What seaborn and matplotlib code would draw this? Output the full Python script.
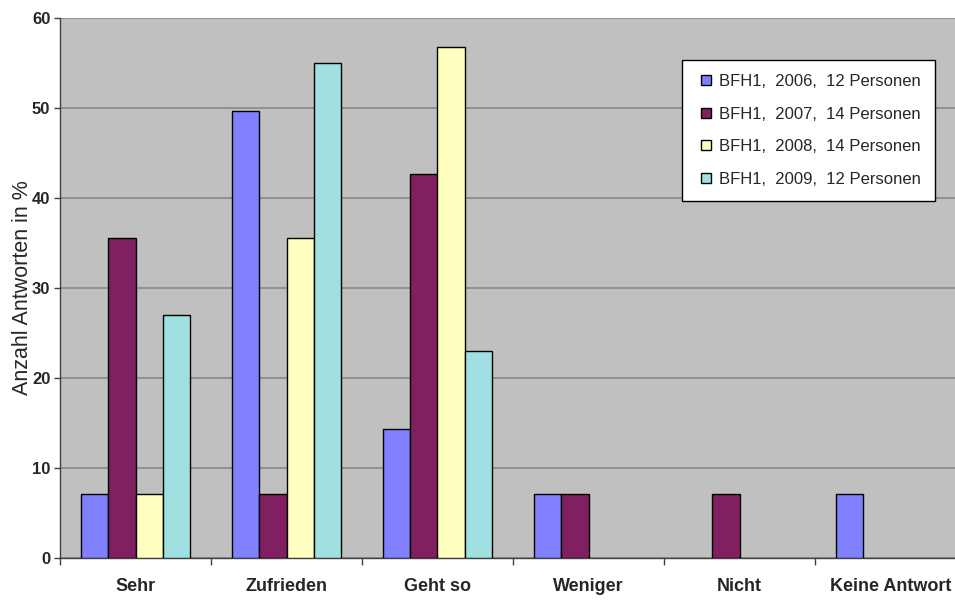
import matplotlib
matplotlib.use("Agg")
import matplotlib.pyplot as plt
from matplotlib.lines import Line2D
import seaborn as sns
import pandas as pd

categories = ["Sehr", "Zufrieden", "Geht so", "Weniger", "Nicht", "Keine Antwort"]
series_names = ["BFH1,  2006,  12 Personen", "BFH1,  2007,  14 Personen",
                "BFH1,  2008,  14 Personen", "BFH1,  2009,  12 Personen"]
v2006 = [7.1, 49.7, 14.3, 7.1, 0, 7.1]
v2007 = [35.5, 7.1, 42.6, 7.1, 7.1, 0]
v2008 = [7.1, 35.5, 56.8, 0, 0, 0]
v2009 = [27.0, 55.0, 23.0, 0, 0, 0]
colors = ["#8080FF", "#802060", "#FFFFC0", "#A0E0E0"]
y_ticks = [0, 10, 20, 30, 40, 50, 60]

rows = []
for name, vals in zip(series_names, [v2006, v2007, v2008, v2009]):
    for c, v in zip(categories, vals):
        rows.append({"Kategorie": c, "Serie": name, "Wert": v})
df = pd.DataFrame(rows)

sns.set_theme(style="white")
plt.rcParams["font.family"] = ["Liberation Sans", "DejaVu Sans"]

fig = plt.figure(figsize=(9.55, 6.0), dpi=100)
fig.patch.set_facecolor("white")
ax = fig.add_axes([60 / 955, 1 - 557.5 / 600, 906 / 955, 539.5 / 600])
ax.set_facecolor("#C0C0C0")

sns.barplot(data=df, x="Kategorie", y="Wert", hue="Serie", order=categories,
            hue_order=series_names, palette=dict(zip(series_names, colors)),
            width=0.72, gap=0, edgecolor="black", linewidth=1.0,
            saturation=1, ax=ax, zorder=3, legend=False)

# hide zero-height bars (no outline line)
for p in ax.patches:
    if abs(p.get_height()) < 1e-9:
        p.set_linewidth(0)

ax.set_ylim(0, 60)
ax.set_xlim(-0.5, 5.5)
ax.set_yticks(y_ticks)
ax.set_yticklabels([str(t) for t in y_ticks], fontsize=12, fontweight="bold")
ax.yaxis.grid(True, color="#8C8C8C", linewidth=1.3, zorder=0)
ax.xaxis.grid(False)
ax.set_axisbelow(True)

# x ticks at category boundaries, labels at centers
ax.set_xticks([i - 0.5 for i in range(len(categories) + 1)])
ax.set_xticklabels([""] * (len(categories) + 1))
ax.set_xticks(range(len(categories)), minor=True)
ax.set_xticklabels(categories, minor=True, fontsize=13, fontweight="bold")
ax.tick_params(axis="x", which="major", direction="out", length=5, width=1, color="#404040", bottom=True)
ax.tick_params(axis="x", which="minor", length=0, pad=15, bottom=True)
ax.tick_params(axis="y", direction="out", length=4, width=1, color="#404040", pad=3, left=True)

for s in ["top", "right"]:
    ax.spines[s].set_visible(False)
for s in ["left", "bottom"]:
    ax.spines[s].set_color("#404040")
    ax.spines[s].set_linewidth(1.0)

ax.set_xlabel("")
ax.set_ylabel("Anzahl Antworten in %", fontsize=15.5)
ax.yaxis.label.set_verticalalignment("center")
ax.yaxis.set_label_coords(-37 / 906, 0.5)

handles = [Line2D([], [], marker="s", linestyle="", markersize=7,
                  markerfacecolor=c, markeredgecolor="black", markeredgewidth=1.0)
           for c in colors]
leg = ax.legend(handles=handles, labels=series_names, loc="upper left",
                bbox_to_anchor=(682 / 955, 1 - 60 / 600),
                bbox_transform=fig.transFigure, fontsize=12, frameon=True,
                fancybox=False, edgecolor="black", facecolor="white", framealpha=1,
                handlelength=1.2, handletextpad=0.15,
                labelspacing=1.05, borderpad=0.85, borderaxespad=0)
leg.get_frame().set_linewidth(1.0)

fig.savefig("out.png", dpi=100)
